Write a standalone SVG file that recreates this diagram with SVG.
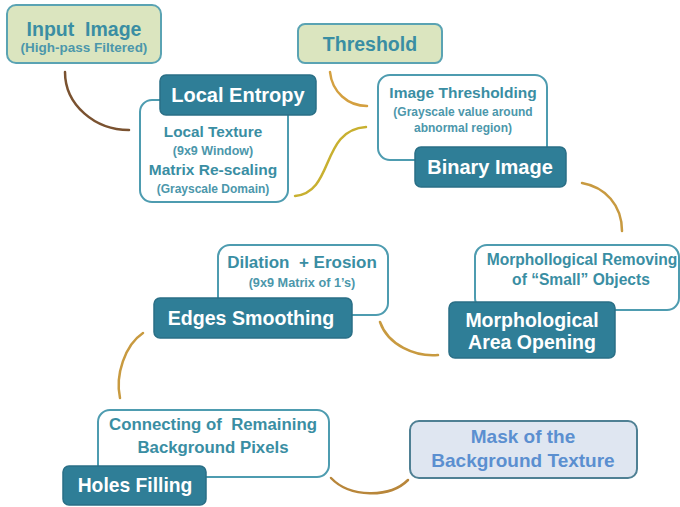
<svg xmlns="http://www.w3.org/2000/svg" width="680" height="507" viewBox="0 0 680 507">
<defs>
<style>
text{font-family:"Liberation Sans",Arial,sans-serif;font-weight:bold;text-anchor:middle;white-space:pre}
.green{fill:#dbe5bf;stroke:#5aa3b3;stroke-width:2}
.white{fill:#ffffff;stroke:#4e9cb0;stroke-width:2}
.dark{fill:#2f7e97;stroke:#2a6f86;stroke-width:1.5}
.mask{fill:#dfe6f1;stroke:#4f8094;stroke-width:2}
.tl{fill:#3a8ea3}
.ts{fill:#4c97ab}
.tw{fill:#ffffff}
.tm{fill:#5b8fd0}
.c{fill:none;stroke-width:2.5;stroke-linecap:round}
</style>
</defs>
<g id="connectors">
<path class="c" stroke="#7a5230" d="M65,72 C65,105 95,130 129,130"/>
<path class="c" stroke="#d4a040" d="M330,72 C332,92 348,106 367,106"/>
<path class="c" stroke="#c8b030" d="M295,196 C335,192 320,130 366,127"/>
<path class="c" stroke="#c89a40" d="M582,183 C605,187 622,205 622,231"/>
<path class="c" stroke="#c89a40" d="M380,322 C388,345 415,357 438,355"/>
<path class="c" stroke="#c89a40" d="M143,333 C125,345 115,375 120,398"/>
<path class="c" stroke="#b8863a" d="M331,478 C350,498 390,498 408,480"/>
</g>
<g id="input-image">
<rect class="green" x="7" y="5" width="154" height="58" rx="9"/>
<text class="tl" x="84" y="36" font-size="19.5">Input  Image</text>
<text class="ts" x="84" y="52" font-size="13.5">(High-pass Filtered)</text>
</g>
<g id="local-entropy">
<rect class="white" x="140" y="100" width="148" height="102" rx="12"/>
<rect class="dark" x="160" y="75" width="156" height="40" rx="6"/>
<text class="tw" x="238" y="102" font-size="20">Local Entropy</text>
<text class="tl" x="213" y="137" font-size="15.3">Local Texture</text>
<text class="ts" x="213" y="155" font-size="12.5">(9x9 Window)</text>
<text class="tl" x="213" y="175" font-size="15.5">Matrix Re-scaling</text>
<text class="ts" x="213" y="193" font-size="12">(Grayscale Domain)</text>
</g>
<g id="threshold">
<rect class="green" x="298" y="24" width="144" height="39" rx="7"/>
<text class="tl" x="370" y="51" font-size="19.5">Threshold</text>
</g>
<g id="binary-image">
<rect class="white" x="378" y="75" width="169" height="85" rx="12"/>
<rect class="dark" x="415" y="147" width="151" height="40" rx="6"/>
<text class="tl" x="463" y="98" font-size="15.5">Image Thresholding</text>
<text class="ts" x="463" y="116" font-size="12">(Grayscale value around</text>
<text class="ts" x="463" y="132" font-size="12">abnormal region)</text>
<text class="tw" x="490" y="174" font-size="20">Binary Image</text>
</g>
<g id="area-opening">
<rect class="white" x="475" y="245" width="204" height="65" rx="12"/>
<rect class="dark" x="449" y="302" width="166" height="56" rx="6"/>
<text class="tl" x="582" y="265" font-size="15.6">Morphollogical Removing</text>
<text class="tl" x="581" y="285" font-size="15.6">of “Small” Objects</text>
<text class="tw" x="532" y="327" font-size="19.5">Morphological</text>
<text class="tw" x="532" y="349" font-size="19.5">Area Opening</text>
</g>
<g id="edges-smoothing">
<rect class="white" x="218" y="245" width="170" height="70" rx="12"/>
<rect class="dark" x="154" y="298" width="198" height="40" rx="6"/>
<text class="tl" x="302" y="268" font-size="17">Dilation  + Erosion</text>
<text class="ts" x="302" y="287" font-size="12.7">(9x9 Matrix of 1’s)</text>
<text class="tw" x="251" y="325" font-size="19.6">Edges Smoothing</text>
</g>
<g id="holes-filling">
<rect class="white" x="98" y="410" width="231" height="67" rx="12"/>
<rect class="dark" x="63" y="466" width="143" height="39" rx="6"/>
<text class="tl" x="213" y="430" font-size="16.8">Connecting of  Remaining</text>
<text class="tl" x="213" y="453" font-size="16.8">Background Pixels</text>
<text class="tw" x="135" y="492" font-size="19.3">Holes Filling</text>
</g>
<g id="mask">
<rect class="mask" x="410" y="421" width="227" height="57" rx="9"/>
<text class="tm" x="523" y="443" font-size="19">Mask of the</text>
<text class="tm" x="523" y="467" font-size="19">Background Texture</text>
</g>
</svg>
